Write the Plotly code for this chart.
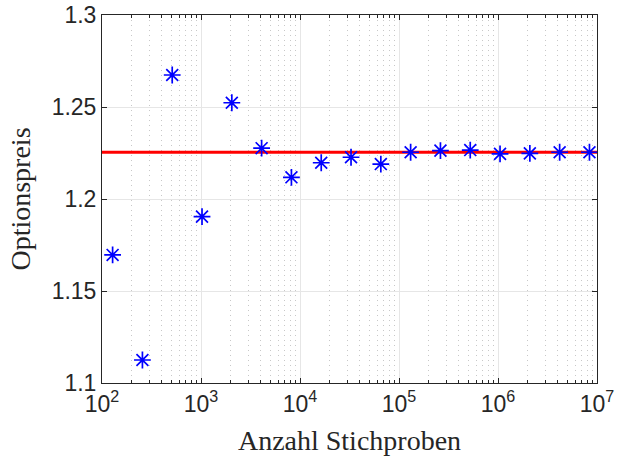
import plotly.graph_objects as go

samples = [2**k for k in range(7, 24)]
prices = [1.1696, 1.1125, 1.2674, 1.1904, 1.2523, 1.2276, 1.2118, 1.2197,
          1.2227, 1.2190, 1.2254, 1.2263, 1.2266, 1.2245, 1.2248, 1.2254, 1.2254]
ref_x = [1e2, 1e7]
ref_price = 1.2254
x_tickvals = [1e2, 1e3, 1e4, 1e5, 1e6, 1e7]
x_ticktext = ["10<sup>2</sup>", "10<sup>3</sup>", "10<sup>4</sup>", "10<sup>5</sup>",
              "10<sup>6</sup>", "10<sup>7</sup>"]
y_tickvals = [1.1, 1.15, 1.2, 1.25, 1.3]
y_ticktext = ["1.1", "1.15", "1.2", "1.25", "1.3"]

fig = go.Figure()
fig.add_trace(go.Scatter(x=ref_x, y=[ref_price, ref_price], mode="lines",
                         line=dict(color="#ff0000", width=3), showlegend=False))
fig.add_trace(go.Scatter(x=samples, y=prices, mode="markers",
                         marker=dict(symbol="asterisk-open", size=14, color="#0000ff",
                                     line=dict(color="#0000ff", width=1.7)),
                         showlegend=False))

axis_common = dict(
    showline=True, linecolor="#262626", linewidth=1, mirror="ticks",
    ticks="inside", ticklen=5, tickcolor="#262626", automargin=False,
    showgrid=True, gridcolor="#e6e6e6", gridwidth=1, zeroline=False,
    tickfont=dict(family="Liberation Sans, Arial", size=23, color="#262626"),
)

fig.update_xaxes(type="log", range=[2, 7], tickvals=x_tickvals, ticktext=x_ticktext,
                 title=dict(text="Anzahl Stichproben",
                            font=dict(family="Liberation Serif, serif", size=28, color="#262626"),
                            standoff=14),
                 minor=dict(dtick="D1", showgrid=True, gridcolor="#c8c8c8", griddash="1px,4px",
                            ticks="inside", ticklen=3, tickcolor="#262626"),
                 **axis_common)
fig.update_yaxes(range=[1.1, 1.3], tickvals=y_tickvals, ticktext=y_ticktext,
                 title=dict(text="Optionspreis",
                            font=dict(family="Liberation Serif, serif", size=28, color="#262626"),
                            standoff=12),
                 **axis_common)

fig.update_layout(width=618, height=467, margin=dict(l=102, r=21, t=15, b=84),
                  paper_bgcolor="white", plot_bgcolor="white")
fig.write_html("out.html")
